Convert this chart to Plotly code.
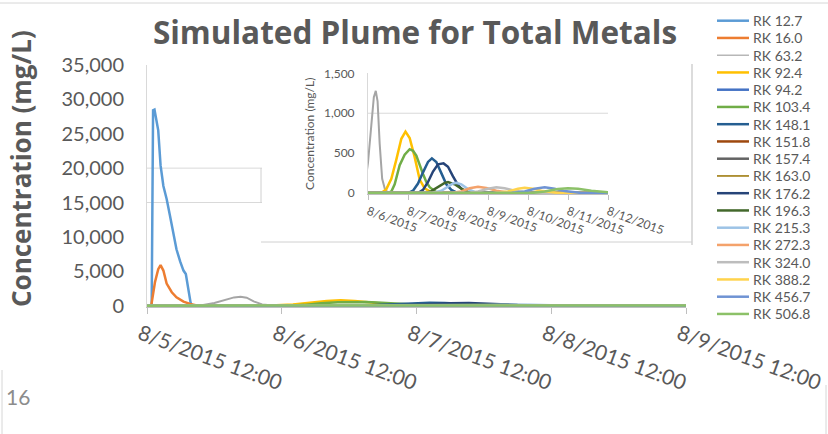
import plotly.graph_objects as go

# ---------------- data ----------------
series_names = ["RK 12.7", "RK 16.0", "RK 63.2", "RK 92.4", "RK 94.2", "RK 103.4",
                "RK 148.1", "RK 151.8", "RK 157.4", "RK 163.0", "RK 176.2", "RK 196.3",
                "RK 215.3", "RK 272.3", "RK 324.0", "RK 388.2", "RK 456.7", "RK 506.8"]

rk12_7_t = ["2015-08-05 12:00", "2015-08-05 12:50", "2015-08-05 13:05", "2015-08-05 13:20",
            "2015-08-05 14:00", "2015-08-05 14:25", "2015-08-05 14:55", "2015-08-05 15:30",
            "2015-08-05 16:05", "2015-08-05 16:40", "2015-08-05 17:15", "2015-08-05 17:55",
            "2015-08-05 18:30", "2015-08-05 18:55", "2015-08-05 19:20", "2015-08-05 19:45",
            "2015-08-05 20:00", "2015-08-12 00:00"]
rk12_7_c = [0, 0, 28400, 28500, 25500, 20400, 17400, 15500, 13100, 10700, 8200, 6400,
            5100, 4600, 2400, 500, 0, 0]

rk16_0_t = ["2015-08-05 12:00", "2015-08-05 12:45", "2015-08-05 13:25", "2015-08-05 14:00",
            "2015-08-05 14:25", "2015-08-05 14:55", "2015-08-05 15:30", "2015-08-05 16:25",
            "2015-08-05 17:15", "2015-08-05 18:30", "2015-08-05 19:40", "2015-08-05 21:05",
            "2015-08-12 00:00"]
rk16_0_c = [0, 0, 3400, 5300, 5900, 5100, 3200, 1950, 1200, 580, 250, 0, 0]

rk63_2_t = ["2015-08-05 12:00", "2015-08-05 20:00", "2015-08-05 22:00", "2015-08-06 00:00",
            "2015-08-06 02:00", "2015-08-06 03:30", "2015-08-06 04:40", "2015-08-06 05:45",
            "2015-08-06 07:00", "2015-08-06 08:30", "2015-08-06 10:00", "2015-08-06 12:00",
            "2015-08-12 00:00"]
rk63_2_c = [0, 0, 80, 380, 850, 1200, 1280, 1150, 620, 180, 60, 0, 0]

rk92_4_t = ["2015-08-05 12:00", "2015-08-06 08:00", "2015-08-06 11:00", "2015-08-06 14:00",
            "2015-08-06 17:00", "2015-08-06 20:00", "2015-08-06 22:30", "2015-08-07 01:00",
            "2015-08-07 04:00", "2015-08-07 07:00", "2015-08-07 10:00", "2015-08-07 14:00",
            "2015-08-07 18:00", "2015-08-12 00:00"]
rk92_4_c = [0, 0, 50, 180, 420, 680, 770, 690, 450, 170, 60, 10, 0, 0]

rk94_2_t = ["2015-08-05 12:00", "2015-08-12 00:00"]
rk94_2_c = [0, 0]

rk103_4_t = ["2015-08-05 12:00", "2015-08-06 12:00", "2015-08-06 14:00", "2015-08-06 16:00",
             "2015-08-06 19:00", "2015-08-06 22:00", "2015-08-07 01:00", "2015-08-07 03:00",
             "2015-08-07 05:00", "2015-08-07 07:00", "2015-08-07 09:00", "2015-08-07 11:00",
             "2015-08-07 13:00", "2015-08-07 17:00", "2015-08-07 20:00", "2015-08-12 00:00"]
rk103_4_c = [0, 0, 20, 110, 350, 480, 550, 530, 470, 350, 240, 140, 74, 12, 0, 0]

rk148_1_t = ["2015-08-05 12:00", "2015-08-07 00:00", "2015-08-07 03:00", "2015-08-07 06:00",
             "2015-08-07 09:00", "2015-08-07 12:00", "2015-08-07 14:20", "2015-08-07 17:00",
             "2015-08-07 20:00", "2015-08-07 23:00", "2015-08-08 02:00", "2015-08-08 05:00",
             "2015-08-08 08:00", "2015-08-12 00:00"]
rk148_1_c = [0, 0, 30, 120, 260, 390, 435, 390, 250, 110, 40, 10, 0, 0]

rk151_8_t = ["2015-08-05 12:00", "2015-08-12 00:00"]
rk151_8_c = [0, 0]

rk157_4_t = ["2015-08-05 12:00", "2015-08-12 00:00"]
rk157_4_c = [0, 0]

rk163_0_t = ["2015-08-05 12:00", "2015-08-12 00:00"]
rk163_0_c = [0, 0]

rk176_2_t = ["2015-08-05 12:00", "2015-08-07 06:00", "2015-08-07 09:00", "2015-08-07 12:00",
             "2015-08-07 15:00", "2015-08-07 18:00", "2015-08-07 21:20", "2015-08-08 00:00",
             "2015-08-08 03:00", "2015-08-08 06:00", "2015-08-08 09:00", "2015-08-08 12:00",
             "2015-08-08 15:00", "2015-08-12 00:00"]
rk176_2_c = [0, 0, 40, 140, 270, 360, 372, 330, 210, 100, 35, 5, 0, 0]

rk196_3_t = ["2015-08-05 12:00", "2015-08-07 10:00", "2015-08-07 14:00", "2015-08-07 18:00",
             "2015-08-07 22:00", "2015-08-08 00:00", "2015-08-08 04:00", "2015-08-08 08:00",
             "2015-08-08 12:00", "2015-08-08 16:00", "2015-08-12 00:00"]
rk196_3_c = [0, 0, 25, 80, 128, 138, 110, 55, 15, 0, 0]

rk215_3_t = ["2015-08-05 12:00", "2015-08-07 14:00", "2015-08-07 20:00", "2015-08-08 00:00",
             "2015-08-08 03:00", "2015-08-08 05:00", "2015-08-08 08:00", "2015-08-08 12:00",
             "2015-08-08 16:00", "2015-08-08 20:00", "2015-08-12 00:00"]
rk215_3_c = [0, 0, 30, 80, 120, 130, 110, 50, 15, 0, 0]

rk272_3_t = ["2015-08-05 12:00", "2015-08-08 02:00", "2015-08-08 08:00", "2015-08-08 13:00",
             "2015-08-08 18:00", "2015-08-08 23:00", "2015-08-09 05:00", "2015-08-09 11:00",
             "2015-08-09 15:00", "2015-08-12 00:00"]
rk272_3_c = [0, 0, 20, 60, 80, 65, 30, 8, 0, 0]

rk324_0_t = ["2015-08-05 12:00", "2015-08-08 12:00", "2015-08-08 18:00", "2015-08-09 00:00",
             "2015-08-09 05:00", "2015-08-09 10:00", "2015-08-09 16:00", "2015-08-09 22:00",
             "2015-08-10 02:00", "2015-08-12 00:00"]
rk324_0_c = [0, 0, 20, 55, 72, 60, 30, 8, 0, 0]

rk388_2_t = ["2015-08-05 12:00", "2015-08-09 04:00", "2015-08-09 12:00", "2015-08-09 18:00",
             "2015-08-09 22:00", "2015-08-10 03:00", "2015-08-10 09:00", "2015-08-10 15:00",
             "2015-08-10 18:00", "2015-08-12 00:00"]
rk388_2_c = [0, 0, 20, 55, 68, 55, 25, 5, 0, 0]

rk456_7_t = ["2015-08-05 12:00", "2015-08-09 14:00", "2015-08-09 22:00", "2015-08-10 04:00",
             "2015-08-10 10:00", "2015-08-10 16:00", "2015-08-10 22:00", "2015-08-11 04:00",
             "2015-08-11 08:00", "2015-08-12 00:00"]
rk456_7_c = [0, 0, 20, 55, 72, 55, 25, 6, 0, 0]

rk506_8_t = ["2015-08-05 12:00", "2015-08-10 02:00", "2015-08-10 10:00", "2015-08-10 18:00",
             "2015-08-11 00:00", "2015-08-11 06:00", "2015-08-11 14:00", "2015-08-11 20:00",
             "2015-08-12 00:00"]
rk506_8_c = [0, 0, 20, 50, 62, 55, 30, 15, 10]

series_times = [rk12_7_t, rk16_0_t, rk63_2_t, rk92_4_t, rk94_2_t, rk103_4_t, rk148_1_t,
                rk151_8_t, rk157_4_t, rk163_0_t, rk176_2_t, rk196_3_t, rk215_3_t,
                rk272_3_t, rk324_0_t, rk388_2_t, rk456_7_t, rk506_8_t]
series_values = [rk12_7_c, rk16_0_c, rk63_2_c, rk92_4_c, rk94_2_c, rk103_4_c, rk148_1_c,
                 rk151_8_c, rk157_4_c, rk163_0_c, rk176_2_c, rk196_3_c, rk215_3_c,
                 rk272_3_c, rk324_0_c, rk388_2_c, rk456_7_c, rk506_8_c]

main_yticks = [0, 5000, 10000, 15000, 20000, 25000, 30000, 35000]
inset_yticks = [0, 500, 1000, 1500]

# ---------------- styles ----------------
colors = ["#5B9BD5", "#ED7D31", "#A5A5A5", "#FFC000", "#4472C4", "#70AD47",
          "#255E91", "#9E480E", "#636363", "#997300", "#264478", "#43682B",
          "#9DC3E6", "#F4A26B", "#BDBDBD", "#FFD34D", "#6F93D3", "#8CC168"]
widths = [2.5, 2.5, 2.0, 2.5, 2.5, 2.5, 2.5, 2.5, 2.5, 1.5, 2.5, 2.5, 2.5, 2.5, 2.5, 2.5, 2.5, 2.5]
legend_widths = [2.5, 2.5, 1.2, 2.5, 2.5, 2.5, 2.5, 2.5, 2.5, 1.5, 2.5, 2.5, 2.5, 2.5, 2.5, 2.5, 2.5, 2.5]

W, H = 828, 434
ML, MR, MT, MB = 147, 142, 65, 127
PW = W - ML - MR
PH = H - MT - MB
TXT = "#595959"
FONT = "Lato"
TFONT = "Open Sans"


def px_x(x):
    return (x - ML) / PW


def px_y(y):
    return (H - MB - y) / PH


fig = go.Figure()
for name, t, v, c, w in zip(series_names, series_times, series_values, colors, widths):
    fig.add_trace(go.Scatter(x=t, y=v, name=name, mode="lines",
                             line=dict(color=c, width=w), xaxis="x", yaxis="y",
                             showlegend=False))
for name, t, v, c, w in zip(series_names, series_times, series_values, colors, widths):
    fig.add_trace(go.Scatter(x=t, y=v, name=name, mode="lines",
                             line=dict(color=c, width=w), xaxis="x2", yaxis="y2",
                             showlegend=False))

shapes = []
annotations = []

# main gridlines (visible left of the inset)
for gv in [15000, 20000]:
    shapes.append(dict(type="line", xref="paper", yref="y", x0=0, x1=px_x(262),
                       y0=gv, y1=gv, line=dict(color="#D9D9D9", width=1), layer="below"))
# inset gridline
shapes.append(dict(type="line", xref="x2 domain", yref="y2", x0=0, x1=1, y0=1000, y1=1000,
                   line=dict(color="#D9D9D9", width=1), layer="below"))
# inset frame
frame_col = "#D0D0D0"
shapes.append(dict(type="line", xref="paper", yref="paper", x0=px_x(692), x1=px_x(692),
                   y0=px_y(245), y1=px_y(64), line=dict(color=frame_col, width=1.5)))
shapes.append(dict(type="line", xref="paper", yref="paper", x0=px_x(261), x1=px_x(692),
                   y0=px_y(242), y1=px_y(242), line=dict(color=frame_col, width=1)))
shapes.append(dict(type="line", xref="paper", yref="paper", x0=px_x(261), x1=px_x(261),
                   y0=px_y(203), y1=px_y(168), line=dict(color=frame_col, width=1)))
# slide border bits
shapes.append(dict(type="line", xref="paper", yref="paper", x0=px_x(0), x1=px_x(828),
                   y0=px_y(3), y1=px_y(3), line=dict(color="#D6D6D6", width=1)))
shapes.append(dict(type="line", xref="paper", yref="paper", x0=px_x(2), x1=px_x(2),
                   y0=px_y(434), y1=px_y(370), line=dict(color="#D6D6D6", width=1)))
shapes.append(dict(type="line", xref="paper", yref="paper", x0=px_x(826), x1=px_x(826),
                   y0=px_y(434), y1=px_y(385), line=dict(color="#D6D6D6", width=1)))

# legend (drawn manually to match the compact spacing)
for i, (name, c, lw) in enumerate(zip(series_names, colors, legend_widths)):
    yy = 20.7 + 17.25 * i
    shapes.append(dict(type="line", xref="paper", yref="paper", x0=px_x(717), x1=px_x(749),
                       y0=px_y(yy), y1=px_y(yy), line=dict(color=c, width=lw)))
    annotations.append(dict(text=name, xref="paper", yref="paper", x=px_x(751), y=px_y(yy),
                            xanchor="left", yanchor="middle", showarrow=False,
                            font=dict(family=FONT, size=14, color=TXT)))

# main y-axis title
annotations.append(dict(text="Concentration (mg/L)", xref="paper", yref="paper",
                        x=px_x(21), y=px_y(169), xanchor="center", yanchor="middle",
                        textangle=-90, showarrow=False,
                        font=dict(family=TFONT, size=26, weight="bold", color=TXT)))

# slide number
annotations.append(dict(text="16", xref="paper", yref="paper", x=px_x(4), y=px_y(396),
                        xanchor="left", yanchor="middle", showarrow=False,
                        font=dict(family=FONT, size=21, color="#8C8C8C")))

fig.update_layout(
    width=W, height=H,
    margin=dict(l=ML, r=MR, t=MT, b=MB, autoexpand=False),
    paper_bgcolor="white", plot_bgcolor="rgba(0,0,0,0)",
    showlegend=False,
    font=dict(family=FONT, color=TXT),
    title=dict(text="Simulated Plume for Total Metals", xref="container", yref="container",
               x=415 / W, xanchor="center", y=1 - 33 / H, yanchor="middle",
               font=dict(family=TFONT, size=31.5, weight="bold", color=TXT)),
    xaxis=dict(type="date", range=["2015-08-05 12:00", "2015-08-09 12:00"],
               tick0="2015-08-05 12:00", dtick=86400000, tickformat="%-m/%-d/%Y %H:%M",
               tickangle=20, ticks="outside", ticklen=6, tickcolor="#BFBFBF",
               ticklabelshift=-7, ticklabelstandoff=0,
               showline=True, linecolor="#BFBFBF", linewidth=1, showgrid=False,
               zeroline=False, tickfont=dict(family=FONT, size=21, color=TXT)),
    yaxis=dict(range=[-200, 35000], tickvals=main_yticks, tickformat=",d",
               showgrid=False, zeroline=False, showline=True, linecolor="#D9D9D9",
               ticks="", ticklabelstandoff=18,
               tickfont=dict(family=FONT, size=20, color=TXT)),
    xaxis2=dict(type="date", domain=[px_x(368), px_x(608)], anchor="y2",
                range=["2015-08-06 00:00", "2015-08-12 00:00"],
                tick0="2015-08-06", dtick=86400000, tickformat="%-m/%-d/%Y",
                tickangle=20, ticks="outside", ticklen=5, tickcolor="#BFBFBF",
                showline=True, linecolor="#BFBFBF", showgrid=False, zeroline=False,
                tickfont=dict(family=FONT, size=12, color=TXT)),
    yaxis2=dict(domain=[px_y(194.3), px_y(73.3)], anchor="x2", range=[-15, 1500],
                tickvals=inset_yticks, tickformat=",d", showgrid=False, zeroline=False,
                showline=True, linecolor="#D9D9D9", ticks="", ticklabelstandoff=10,
                tickfont=dict(family=FONT, size=12, color=TXT),
                title=dict(text="Concentration (mg/L)", standoff=6,
                           font=dict(family=FONT, size=12, color=TXT))),
    shapes=shapes,
    annotations=annotations,
)

fig.write_html("out.html", config={"displayModeBar": False},
               post_script="document.body.style.margin='0px';")
